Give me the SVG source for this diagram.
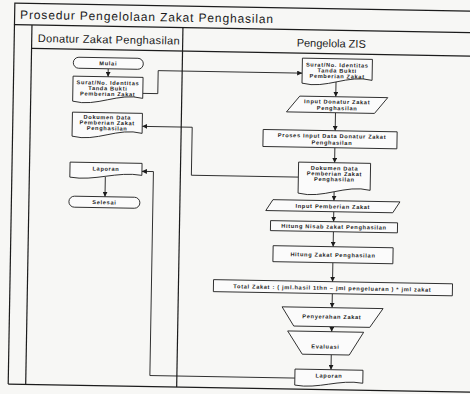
<svg xmlns="http://www.w3.org/2000/svg" width="470" height="394" viewBox="0 0 470 394">
<style>
  .frame{fill:none;stroke:#1c1c1c;stroke-width:1.2}
  .shape{fill:#fbfbfb;stroke:#1c1c1c;stroke-width:0.9}
  .conn{fill:none;stroke:#1c1c1c;stroke-width:0.9}
  text{font-family:"Liberation Sans",Arial,sans-serif;fill:#1a1a1a}
  .t{font-size:5.6px;font-weight:bold;text-anchor:middle;letter-spacing:0.7px}
  .title{font-size:12px}
  .lane{font-size:11px}
</style>
<defs>
  <marker id="arr" viewBox="0 0 6 6" refX="6" refY="3" markerWidth="5" markerHeight="5" orient="auto" markerUnits="userSpaceOnUse">
    <path d="M0,0 L6,3 L0,6 z" fill="#1c1c1c"/>
  </marker>
</defs>
<rect x="0" y="0" width="470" height="394" fill="#f7f7f5"/>
<g transform="rotate(1 235 197)">
  <!-- swimlane frame -->
  <g id="frame">
    <rect class="frame" x="11.5" y="7" width="490" height="21.5"/>
    <line class="frame" x1="11.5" y1="28.5" x2="11.5" y2="388"/>
    <line class="frame" x1="29" y1="28.5" x2="29" y2="388"/>
    <line class="frame" x1="180" y1="28.5" x2="180" y2="388"/>
    <line class="frame" x1="29" y1="52" x2="502" y2="52"/>
    <line class="frame" x1="11.5" y1="388" x2="502" y2="388"/>
    <text class="title" x="17" y="22.5" textLength="253" lengthAdjust="spacing">Prosedur Pengelolaan Zakat Penghasilan</text>
    <text class="lane" x="35" y="45.5" textLength="142" lengthAdjust="spacing">Donatur Zakat Penghasilan</text>
    <text class="lane" x="294" y="45.5">Pengelola ZIS</text>
  </g>

  <!-- connectors -->
  <g id="connectors">
    <path class="conn" d="M106,71 V79" marker-end="url(#arr)"/>
    <path class="conn" d="M105,179 V199" marker-end="url(#arr)"/>
    <path class="conn" d="M141,95 H156 V72 H300" marker-end="url(#arr)"/>
    <path class="conn" d="M298,176 H191 V128 H141" marker-end="url(#arr)"/>
    <path class="conn" d="M298,377 H153 V173 H141.5" marker-end="url(#arr)"/>
    <path class="conn" d="M334,80 V95" marker-end="url(#arr)"/>
    <path class="conn" d="M334,111 V129" marker-end="url(#arr)"/>
    <path class="conn" d="M334,146 V161" marker-end="url(#arr)"/>
    <path class="conn" d="M334,190 V199" marker-end="url(#arr)"/>
    <path class="conn" d="M334,210 V220" marker-end="url(#arr)"/>
    <path class="conn" d="M334,230 V245" marker-end="url(#arr)"/>
    <path class="conn" d="M334,261 V280" marker-end="url(#arr)"/>
    <path class="conn" d="M334,292 V306" marker-end="url(#arr)"/>
    <path class="conn" d="M334,325 V330" marker-end="url(#arr)"/>
    <path class="conn" d="M334,353 V368" marker-end="url(#arr)"/>
  </g>

  <!-- Donatur Zakat Penghasilan lane -->
  <g id="mulai">
    <rect class="shape" x="71" y="60" width="70" height="11" rx="5.5"/>
    <text class="t" x="106" y="67.6">Mulai</text>
  </g>
  <g id="surat-donatur">
    <path class="shape" d="M71,79 H141 V100 c -24.5,-6 -45.5,10 -70,4 Z"/>
    <text class="t" x="106" y="87">Surat/No. Identitas</text>
    <text class="t" x="106" y="92.6">Tanda Bukti</text>
    <text class="t" x="106" y="98.2">Pemberian Zakat</text>
  </g>
  <g id="dokumen-donatur">
    <path class="shape" d="M71,115 H141 V135 c -24.5,-6 -45.5,10 -70,4 Z"/>
    <text class="t" x="106" y="121.5">Dokumen Data</text>
    <text class="t" x="106" y="127">Pemberian Zakat</text>
    <text class="t" x="106" y="132.5">Penghasilan</text>
  </g>
  <g id="laporan-donatur">
    <path class="shape" d="M69.5,165 H141.5 V177 c -25,-4 -47,7 -72,3 Z"/>
    <text class="t" x="105.5" y="173">Laporan</text>
  </g>
  <g id="selesai">
    <rect class="shape" x="69" y="199" width="71" height="11" rx="5.5"/>
    <text class="t" x="104.5" y="206.6">Selesai</text>
  </g>

  <!-- Pengelola ZIS lane -->
  <g id="surat-pengelola">
    <path class="shape" d="M300,57 H370 V78 c -24.5,-6 -45.5,10 -70,4 Z"/>
    <text class="t" x="335" y="65.3">Surat/No. Identitas</text>
    <text class="t" x="335" y="70.9">Tanda Bukti</text>
    <text class="t" x="335" y="76.5">Pemberian Zakat</text>
  </g>
  <g id="input-donatur">
    <polygon class="shape" points="298,95 386,95 373,111 285,111"/>
    <text class="t" x="335.5" y="102">Input Donatur Zakat</text>
    <text class="t" x="335.5" y="108.4">Penghasilan</text>
  </g>
  <g id="proses-input">
    <rect class="shape" x="262" y="129" width="134" height="17"/>
    <text class="t" x="331" y="136.3">Proses Input Data Donatur Zakat</text>
    <text class="t" x="331" y="143">Penghasilan</text>
  </g>
  <g id="dokumen-pengelola">
    <path class="shape" d="M298,161 H370 V188 c -25,-6 -47,10 -72,4 Z"/>
    <text class="t" x="334" y="168.5">Dokumen Data</text>
    <text class="t" x="334" y="174">Pemberian Zakat</text>
    <text class="t" x="334" y="179.5">Penghasilan</text>
  </g>
  <g id="input-pemberian">
    <polygon class="shape" points="273,199 400,199 393,210 266,210"/>
    <text class="t" x="333" y="206.8">Input Pemberian Zakat</text>
  </g>
  <g id="hitung-nisab">
    <rect class="shape" x="271" y="220" width="127" height="10"/>
    <text class="t" x="334.5" y="227">Hitung Nisab zakat Penghasilan</text>
  </g>
  <g id="hitung-zakat">
    <rect class="shape" x="274" y="245" width="120" height="16"/>
    <text class="t" x="334" y="255.2">Hitung Zakat Penghasilan</text>
  </g>
  <g id="total-zakat">
    <rect class="shape" x="215" y="280" width="239" height="12"/>
    <text class="t" x="334" y="288.3">Total Zakat : ( jml.hasil 1thn – jml pengeluaran ) * jml zakat</text>
  </g>
  <g id="penyerahan">
    <polygon class="shape" points="284,306 385,306 372,325 296,325"/>
    <text class="t" x="334" y="317">Penyerahan Zakat</text>
  </g>
  <g id="evaluasi">
    <polygon class="shape" points="290,330 366,330 352,353 305,353"/>
    <text class="t" x="328" y="347">Evaluasi</text>
  </g>
  <g id="laporan-pengelola">
    <path class="shape" d="M298,368 H366 V381 c -24,-4 -44,7 -68,3 Z"/>
    <text class="t" x="332" y="376">Laporan</text>
  </g>
</g>
</svg>
